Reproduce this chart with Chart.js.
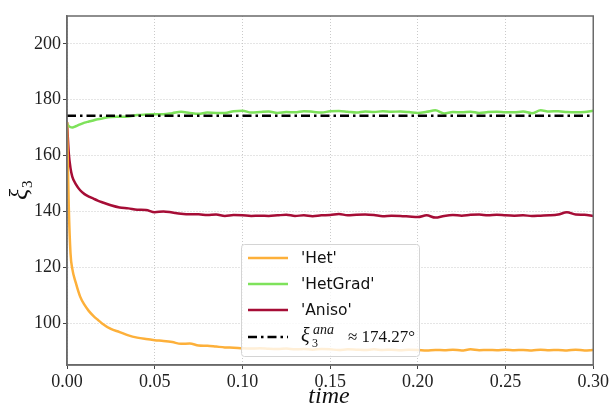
<!DOCTYPE html>
<html>
<head>
<meta charset="utf-8">
<script src="https://cdn.jsdelivr.net/npm/chart.js@4"></script>
<style>
    body { margin: 0; background: #fff; }
    canvas { display: block; }
</style>
</head>
<body>
<canvas id="chart" width="611" height="409"></canvas>
<script>
const times = [0, 0.001, 0.002, 0.003, 0.005, 0.0075, 0.01, 0.0125, 0.015, 0.0175, 0.02,
    0.025, 0.03, 0.035, 0.04, 0.045, 0.05, 0.055, 0.06, 0.065, 0.07, 0.075, 0.08, 0.085, 0.09, 0.095, 0.1,
    0.105, 0.11, 0.115, 0.12, 0.125, 0.13, 0.135, 0.14, 0.145, 0.15, 0.155, 0.16, 0.165, 0.17, 0.175, 0.18,
    0.185, 0.19, 0.195, 0.2, 0.205, 0.21, 0.215, 0.22, 0.225, 0.23, 0.235, 0.24, 0.245, 0.25, 0.255, 0.26,
    0.265, 0.27, 0.275, 0.28, 0.285, 0.29, 0.295, 0.3];

const het = [172, 142, 125, 119.5, 114.5, 109.5, 106.5, 104.3, 102.6, 101.2, 99.9,
    97.9, 96.8, 95.6, 94.8, 94.3, 93.9, 93.6, 93.2, 92.6, 92.7, 92.0, 91.9, 91.6, 91.3, 91.2, 91.0,
    90.9, 91.0, 90.8, 90.7, 90.9, 90.6, 90.7, 90.5, 90.7, 90.6, 90.4, 90.6, 90.5, 90.4, 90.6, 90.4,
    90.5, 90.3, 90.5, 90.4, 90.2, 90.4, 90.3, 90.5, 90.2, 90.6, 90.3, 90.4, 90.3, 90.5, 90.3, 90.4,
    90.2, 90.5, 90.3, 90.4, 90.2, 90.5, 90.2, 90.4];

const hetGrad = [171.5, 170.6, 170.2, 170.1, 170.5, 171.2, 171.8, 172.2, 172.6, 173.0, 173.3,
    173.8, 173.9, 174.0, 174.5, 174.7, 174.8, 174.8, 175.2, 175.7, 175.3, 175.0, 175.4, 175.3, 175.3, 175.9, 176.1,
    175.4, 175.6, 175.8, 175.3, 175.6, 175.5, 175.9, 175.7, 175.4, 175.9, 176.0, 175.7, 175.4, 175.8, 175.6, 175.9,
    175.7, 175.8, 175.6, 175.3, 175.7, 176.2, 175.1, 175.6, 175.5, 175.7, 175.3, 175.6, 175.7, 175.5, 175.5, 175.8,
    175.2, 176.2, 175.8, 175.9, 175.6, 175.5, 175.6, 176.1];

const aniso = [172, 161, 155.5, 152.5, 149.8, 147.6, 146.2, 145.3, 144.6, 143.9, 143.3,
    142.2, 141.4, 141.1, 140.6, 140.5, 139.7, 140.0, 139.6, 139.2, 139.0, 139.0, 138.7, 138.9, 138.4, 138.7, 138.6,
    138.4, 138.5, 138.4, 138.6, 138.8, 138.4, 138.6, 138.3, 138.6, 138.7, 139.1, 138.6, 138.8, 138.9, 138.7, 138.3,
    138.5, 138.4, 138.2, 138.0, 138.6, 137.8, 138.4, 138.7, 138.5, 138.8, 138.9, 138.6, 138.8, 138.6, 138.5, 138.6,
    138.4, 138.5, 138.6, 138.9, 139.7, 138.9, 138.8, 138.4];

const xiAna = 174.27;
const seriesNames = ["'Het'", "'HetGrad'", "'Aniso'"];
const seriesColors = ['#fdb03a', '#7ee25b', '#a60d36'];
const xTicks = [0, 0.05, 0.1, 0.15, 0.2, 0.25, 0.3];
const yTicks = [100, 120, 140, 160, 180, 200];

const toPoints = values => values.map((v, i) => ({x: times[i], y: v}));

const lineStyle = {
    borderWidth: 2.5,
    pointRadius: 0,
    fill: false,
    cubicInterpolationMode: 'monotone',
    order: 1
};

const frameAndLabels = {
    id: 'frameAndLabels',
    afterDatasetsDraw(chart) {
        const {ctx, chartArea: a} = chart;
        ctx.save();
        ctx.strokeStyle = '#6a6a6a';
        ctx.lineWidth = 1.5;
        ctx.strokeRect(a.left, a.top, a.right - a.left, a.bottom - a.top);
        ctx.restore();

        // legend box
        ctx.save();
        const bx = 241, by = 244, bw = 178, bh = 112;
        ctx.beginPath();
        ctx.roundRect(bx + 0.5, by + 0.5, bw, bh, 3);
        ctx.fillStyle = 'rgba(255,255,255,0.8)';
        ctx.fill();
        ctx.strokeStyle = '#d4d4d4';
        ctx.lineWidth = 1;
        ctx.stroke();

        const rows = [258, 284, 310, 337];
        ctx.lineWidth = 2.5;
        seriesNames.forEach((name, i) => {
            ctx.strokeStyle = seriesColors[i];
            ctx.beginPath();
            ctx.moveTo(248, rows[i]);
            ctx.lineTo(288, rows[i]);
            ctx.stroke();
            ctx.fillStyle = '#111';
            ctx.font = '15.5px "DejaVu Sans"';
            ctx.textBaseline = 'middle';
            ctx.fillText(name, 301, rows[i] + 1);
        });
        ctx.strokeStyle = '#000';
        ctx.setLineDash([9, 4, 2.5, 4]);
        ctx.beginPath();
        ctx.moveTo(248, rows[3]);
        ctx.lineTo(288, rows[3]);
        ctx.stroke();
        ctx.setLineDash([]);

        ctx.fillStyle = '#111';
        ctx.textBaseline = 'alphabetic';
        const base = rows[3] + 5;
        ctx.font = 'italic 20px "Liberation Serif"';
        ctx.fillText('ξ', 301, base);
        ctx.font = '12px "Liberation Serif"';
        ctx.fillText('3', 312, base + 5);
        ctx.font = 'italic 14px "Liberation Serif"';
        ctx.fillText('ana', 313, base - 8);
        ctx.font = '17px "Liberation Serif"';
        ctx.fillText('≈ 174.27°', 348, base);
        ctx.restore();

        // axis titles
        ctx.save();
        ctx.fillStyle = '#111';
        ctx.font = 'italic 24px "Liberation Serif"';
        ctx.textAlign = 'center';
        ctx.textBaseline = 'alphabetic';
        ctx.fillText('time', 329, 403);
        ctx.translate(27, 200);
        ctx.rotate(-Math.PI / 2);
        ctx.textAlign = 'left';
        ctx.font = 'italic 26px "Liberation Serif"';
        ctx.fillText('ξ', 0, 0);
        ctx.font = '15px "Liberation Serif"';
        ctx.fillText('3', 12, 5);
        ctx.restore();
    }
};

new Chart(document.getElementById('chart'), {
    type: 'line',
    data: {
        datasets: [
            {
                label: 'xi_ana',
                data: [{x: 0, y: xiAna}, {x: 0.3, y: xiAna}],
                borderColor: '#000',
                borderWidth: 2.5,
                borderDash: [9, 4, 2.5, 4],
                pointRadius: 0,
                order: 0
            },
            {...lineStyle, label: seriesNames[0], data: toPoints(het), borderColor: seriesColors[0]},
            {...lineStyle, label: seriesNames[1], data: toPoints(hetGrad), borderColor: seriesColors[1]},
            {...lineStyle, label: seriesNames[2], data: toPoints(aniso), borderColor: seriesColors[2]}
        ]
    },
    options: {
        responsive: false,
        animation: false,
        devicePixelRatio: 1,
        layout: {padding: {top: 16, right: 17, left: 0, bottom: 0}},
        plugins: {
            legend: {display: false},
            tooltip: {enabled: false}
        },
        scales: {
            x: {
                type: 'linear',
                min: 0,
                max: 0.3,
                afterBuildTicks(scale) {
                    scale.ticks = xTicks.map(v => ({value: v}));
                },
                afterFit(scale) {
                    scale.height = 44;
                },
                ticks: {
                    padding: 2,
                    color: '#222',
                    font: {family: '"Liberation Serif"', size: 18},
                    callback: v => Number(v).toFixed(2)
                },
                grid: {
                    color: '#bdbdbd',
                    lineWidth: 0.8,
                    tickLength: 4,
                    tickColor: '#444',
                    tickWidth: 1,
                    tickBorderDash: []
                },
                border: {display: true, color: '#6a6a6a', width: 1.5, dash: [1, 2]}
            },
            y: {
                min: 85,
                max: 210,
                afterBuildTicks(scale) {
                    scale.ticks = yTicks.map(v => ({value: v}));
                },
                afterFit(scale) {
                    scale.width = 67;
                },
                ticks: {
                    padding: 2,
                    color: '#222',
                    font: {family: '"Liberation Serif"', size: 18}
                },
                grid: {
                    color: '#bdbdbd',
                    lineWidth: 0.8,
                    tickLength: 4,
                    tickColor: '#444',
                    tickWidth: 1,
                    tickBorderDash: []
                },
                border: {display: true, color: '#6a6a6a', width: 1.5, dash: [1, 2]}
            }
        }
    },
    plugins: [frameAndLabels]
});
</script>
</body>
</html>
